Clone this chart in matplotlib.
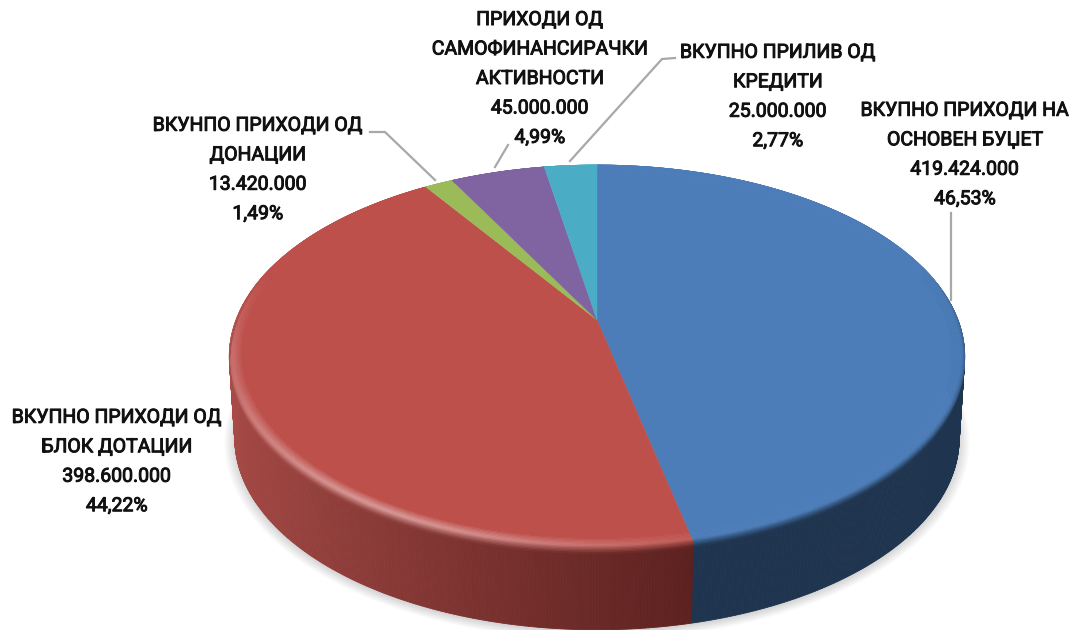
import numpy as np
import matplotlib
matplotlib.use('Agg')
import matplotlib.pyplot as plt
import matplotlib.patheffects as pe
from matplotlib.collections import PolyCollection

# data
names = [['ВКУПНО ПРИХОДИ НА', 'ОСНОВЕН БУЏЕТ'],
         ['ВКУПНО ПРИХОДИ ОД', 'БЛОК ДОТАЦИИ'],
         ['ВКУНПО ПРИХОДИ ОД', 'ДОНАЦИИ'],
         ['ПРИХОДИ ОД', 'САМОФИНАНСИРАЧКИ', 'АКТИВНОСТИ'],
         ['ВКУПНО ПРИЛИВ ОД', 'КРЕДИТИ']]
values = [419424000, 398600000, 13420000, 45000000, 25000000]
value_labels = ['419.424.000', '398.600.000', '13.420.000', '45.000.000', '25.000.000']
pct_labels = ['46,53%', '44,22%', '1,49%', '4,99%', '2,77%']

face_cols = ['#4c7db8', '#be504c', '#9bbb59', '#8064a2', '#4bacc6']
side_left = [(31, 52, 78), (168, 75, 71), (100, 125, 60), (85, 65, 110), (50, 115, 135)]
side_right = [(31, 52, 78), (90, 32, 30), (100, 125, 60), (85, 65, 110), (50, 115, 135)]
glow = [0.0, 0.42, 0, 0, 0]

label_pos = [(965, 155), (117, 462), (258, 170), (540, 79), (778, 97)]
leaders = [[(951, 213), (951, 300)],
           [(370, 132), (385, 132), (435, 180)],
           [(508, 145), (495, 167)],
           [(675, 58), (662, 59), (570, 161)]]

# pie geometry, in pixels
cx, cy = 597, 320
A, B, k = 361, 184.5, 0.19
depth = 82


def project(theta, r=1.0, z=0.0):
    u = r * np.sin(theta)
    v = -r * np.cos(theta)
    d = 1 - k * v
    x = cx + A * u / d
    y = cy + B * v / d
    x = cx + (x - cx) * (1 - 0.015 * z / depth)
    return x, y + z


def rgb(c):
    return np.array(matplotlib.colors.to_rgb(c))


fig = plt.figure(figsize=(10.75, 6.3), dpi=100)
ax = fig.add_axes([0, 0, 1, 1])
ax.set_xlim(0, 1075)
ax.set_ylim(630, 0)
ax.axis('off')

share = np.array(values) / sum(values)
edges = np.concatenate([[0], np.cumsum(share)]) * 2 * np.pi
full = np.linspace(0, 2 * np.pi, 721)

# soft shadow under the pie
for i in range(7):
    x, y = project(full, 1.0 + 0.0045 * (6 - i), depth)
    ax.fill(x, y + 2, color='k', alpha=0.022, lw=0, zorder=1)

wall_polys, wall_cols = [], []
band_polys, band_cols = [], []
stops = np.linspace(0, 1, 13)
for i in range(5):
    th = np.linspace(edges[i], edges[i + 1], max(3, int((edges[i + 1] - edges[i]) * 150)))
    face = rgb(face_cols[i])
    for a, b in zip(th[:-1], th[1:]):
        mid = 0.5 * (a + b)
        u, v = np.sin(mid), -np.cos(mid)
        f = np.clip((u + 1) / 1.25, 0, 1)
        side = (np.array(side_left[i]) * (1 - f) + np.array(side_right[i]) * f) / 255
        # side wall, only the front half shows
        if v > -0.3:
            xa, ya = project(a, 1, 0)
            xb, yb = project(b, 1, 0)
            xc, yc = project(b, 1, depth)
            xd, yd = project(a, 1, depth)
            wall_polys.append([(xa, ya), (xb, yb), (xc, yc), (xd, yd)])
            wall_cols.append(side)
        # rounded edge between top and wall
        s = np.clip((v + 0.25) / 0.4, 0, 1)
        h = glow[i] * np.exp(-((u + 0.5) / 0.55) ** 2)
        high = face + (1 - face) * h
        for t0, t1 in zip(stops[:-1], stops[1:]):
            tm = 0.5 * (t0 + t1)
            if tm < 0.5:
                c = face + (high - face) * (tm / 0.5)
            else:
                c = high + (side - high) * ((tm - 0.5) / 0.5)
            c = face + (c - face) * s
            r0, z0 = 0.965 + 0.035 * min(t0 / 0.65, 1), 6 * max(t0 - 0.65, 0) / 0.35
            r1, z1 = 0.965 + 0.035 * min(t1 / 0.65, 1), 6 * max(t1 - 0.65, 0) / 0.35
            band_polys.append([project(a, r0, z0 * s), project(b, r0, z0 * s),
                               project(b, r1, z1 * s), project(a, r1, z1 * s)])
            band_cols.append(c)

ax.add_collection(PolyCollection(wall_polys, facecolors=wall_cols, edgecolors=wall_cols,
                                 linewidths=0.6, zorder=2))
ax.add_collection(PolyCollection(band_polys, facecolors=band_cols, edgecolors=band_cols,
                                 linewidths=0.4, zorder=2.5))

# flat top of each slice
for i in range(5):
    th = np.linspace(edges[i], edges[i + 1], max(3, int((edges[i + 1] - edges[i]) * 150)))
    x, y = project(th, 0.966)
    ax.fill(np.r_[cx, x], np.r_[cy, y], color=face_cols[i], lw=0.3, zorder=3)

for pts in leaders:
    ax.plot(*zip(*pts), color='#a8a8a8', lw=1.6, zorder=4, solid_joinstyle='miter')

for i in range(5):
    txt = '\n'.join(names[i] + [value_labels[i], pct_labels[i]])
    t = ax.text(label_pos[i][0], label_pos[i][1], txt, ha='center', va='center',
                family=['Roboto', 'DejaVu Sans'], fontsize=14, color='#111111',
                linespacing=1.82, zorder=5)
    t.set_path_effects([pe.withStroke(linewidth=0.7, foreground='#111111')])

fig.savefig('out.png', dpi=100)
